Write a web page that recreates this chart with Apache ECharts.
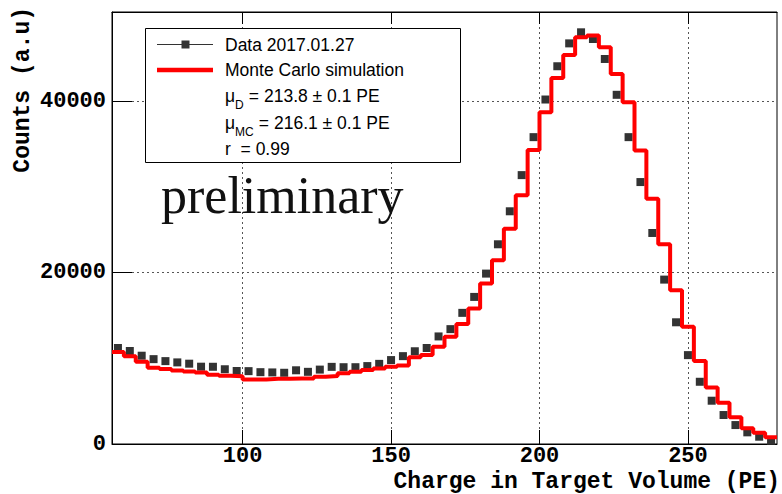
<!DOCTYPE html>
<html>
<head>
<meta charset="utf-8">
<script src="https://cdn.jsdelivr.net/npm/echarts@6/dist/echarts.min.js"></script>
<style>
html,body{margin:0;padding:0;background:#fff;}
#chart{width:782px;height:494px;}
</style>
</head>
<body>
<div id="chart"></div>
<script>
// Bin centres (PE), bin width 4 PE
const binCenters = [58,62,66,70,74,78,82,86,90,94,98,102,106,110,114,118,122,126,130,134,138,142,146,150,154,158,162,166,170,174,178,182,186,190,194,198,202,206,210,214,218,222,226,230,234,238,242,246,250,254,258,262,266,270,274,278];
const binWidth = 4;
// Data 2017.01.27 (markers)
const dataCounts = [11200,10850,10300,9900,9670,9520,9370,9020,9010,8720,8520,8500,8380,8350,8310,8600,8420,8680,9000,8960,8960,9090,9350,9790,10250,10820,11200,12550,13400,15300,17160,19880,23300,27150,31370,35800,40190,44070,46740,48030,47250,44920,40740,35800,30560,24620,19180,14200,10370,7260,5050,3380,2210,1360,850,380];
// Monte Carlo simulation (histogram)
const mcCounts = [10720,10250,9590,8890,8740,8580,8460,8350,8070,7950,7910,7530,7530,7600,7600,7640,7650,7840,7920,8240,8420,8620,8810,9000,9150,10130,10370,11340,12500,14000,15800,18720,21440,25120,29010,34300,38700,42710,45380,47450,47650,46290,43180,39880,34250,28610,23300,17940,13670,9670,6600,4810,3110,1830,1320,780];
const xTickValues = [100,150,200,250];
const yTickValues = [0,20000,40000];
const xRange = [56,280];
const yRange = [0,50400];

const mono = 'Liberation Mono';
const sans = 'Liberation Sans';

const scatterData = binCenters.map((c,i)=>[c,dataCounts[i]]);
const stepData = binCenters.map((c,i)=>[c-binWidth/2,mcCounts[i]]);
stepData.push([binCenters[binCenters.length-1]+binWidth/2, mcCounts[mcCounts.length-1]]);

const chart = echarts.init(document.getElementById('chart'), null, {renderer:'svg'});
const gridLine = {show:true, lineStyle:{color:'#555', width:1, type:[2,3]}};
const plain = v => String(v);
chart.setOption({
  animation:false,
  backgroundColor:'#fff',
  grid:{left:112, right:5, top:12, bottom:50, show:true, borderColor:'#000', borderWidth:1, containLabel:false},
  xAxis:[{
    type:'value', position:'bottom', min:xRange[0], max:xRange[1], splitNumber:5,
    axisLine:{show:true, onZero:false, lineStyle:{color:'#000', width:1}},
    axisTick:{show:true, inside:true, length:14, customValues:xTickValues, lineStyle:{color:'#000'}},
    axisLabel:{show:true, customValues:xTickValues, formatter:plain, margin:4, lineHeight:16, hideOverlap:false,
      fontFamily:mono, fontWeight:'bold', fontSize:22, color:'#000'},
    splitLine:gridLine
  },{
    type:'value', position:'top', min:xRange[0], max:xRange[1], splitNumber:5,
    axisLine:{show:true, onZero:false, lineStyle:{color:'#000', width:1}},
    axisTick:{show:true, inside:true, length:12, customValues:xTickValues, lineStyle:{color:'#000'}},
    axisLabel:{show:false},
    splitLine:{show:false}
  }],
  yAxis:{
    type:'value', min:yRange[0], max:yRange[1], interval:20000,
    axisLine:{show:true, onZero:false, lineStyle:{color:'#000', width:1}},
    axisTick:{show:true, inside:true, length:20, customValues:yTickValues, lineStyle:{color:'#000'}},
    axisLabel:{show:true, customValues:yTickValues, formatter:plain, margin:6, hideOverlap:false,
      fontFamily:mono, fontWeight:'bold', fontSize:22, color:'#000'},
    splitLine:gridLine
  },
  series:[{
    name:'Data 2017.01.27', type:'scatter', data:scatterData, symbol:'rect', symbolSize:8,
    itemStyle:{color:'#333333', opacity:1}, z:2
  },{
    name:'Monte Carlo simulation', type:'line', data:stepData, step:'end', symbol:'none',
    lineStyle:{color:'#ff0000', width:4}, z:3, clip:true
  }],
  graphic:[
    {type:'text', x:23, y:7, rotation:Math.PI/2, z:10,
      style:{text:'Counts (a.u)', fill:'#000', fontFamily:mono, fontWeight:'bold', fontSize:23, lineHeight:18, align:'right', verticalAlign:'middle'}},
    {type:'text', x:780, y:481.5, z:10,
      style:{text:'Charge in Target Volume (PE)', fill:'#000', fontFamily:mono, fontWeight:'bold', fontSize:23, lineHeight:18, align:'right', verticalAlign:'middle'}},
    {type:'text', x:161, y:195, z:10,
      style:{text:'preliminary', fill:'#111', fontFamily:'Liberation Serif', fontSize:52, align:'left', verticalAlign:'middle'}},
    {type:'rect', z:20, shape:{x:145.5, y:28.5, width:315, height:134}, style:{fill:'#fff', stroke:'#000', lineWidth:1}},
    {type:'line', z:21, shape:{x1:157, y1:44.5, x2:213, y2:44.5}, style:{stroke:'#333', lineWidth:1}},
    {type:'rect', z:21, shape:{x:181.5, y:40.5, width:8, height:8}, style:{fill:'#333'}},
    {type:'line', z:21, shape:{x1:157, y1:70, x2:213, y2:70}, style:{stroke:'#ff0000', lineWidth:4.5}},
    {type:'text', x:225, y:44.5, z:21, style:{text:'Data 2017.01.27', fill:'#000', fontFamily:sans, fontSize:17.5, verticalAlign:'middle'}},
    {type:'text', x:225, y:70, z:21, style:{text:'Monte Carlo simulation', fill:'#000', fontFamily:sans, fontSize:17.5, verticalAlign:'middle'}},
    {type:'text', x:225, y:96, z:21, style:{text:'μ', fill:'#000', fontFamily:sans, fontSize:17.5, verticalAlign:'middle'}},
    {type:'text', x:235, y:105, z:21, style:{text:'D', fill:'#000', fontFamily:sans, fontSize:12, verticalAlign:'middle'}},
    {type:'text', x:244, y:96, z:21, style:{text:' = 213.8 ± 0.1 PE', fill:'#000', fontFamily:sans, fontSize:17.5, verticalAlign:'middle'}},
    {type:'text', x:225, y:122.5, z:21, style:{text:'μ', fill:'#000', fontFamily:sans, fontSize:17.5, verticalAlign:'middle'}},
    {type:'text', x:235, y:131.5, z:21, style:{text:'MC', fill:'#000', fontFamily:sans, fontSize:12, verticalAlign:'middle'}},
    {type:'text', x:254, y:122.5, z:21, style:{text:' = 216.1 ± 0.1 PE', fill:'#000', fontFamily:sans, fontSize:17.5, verticalAlign:'middle'}},
    {type:'text', x:225, y:149, z:21, style:{text:'r  = 0.99', fill:'#000', fontFamily:sans, fontSize:17.5, verticalAlign:'middle'}}
  ]
});
</script>
</body>
</html>
